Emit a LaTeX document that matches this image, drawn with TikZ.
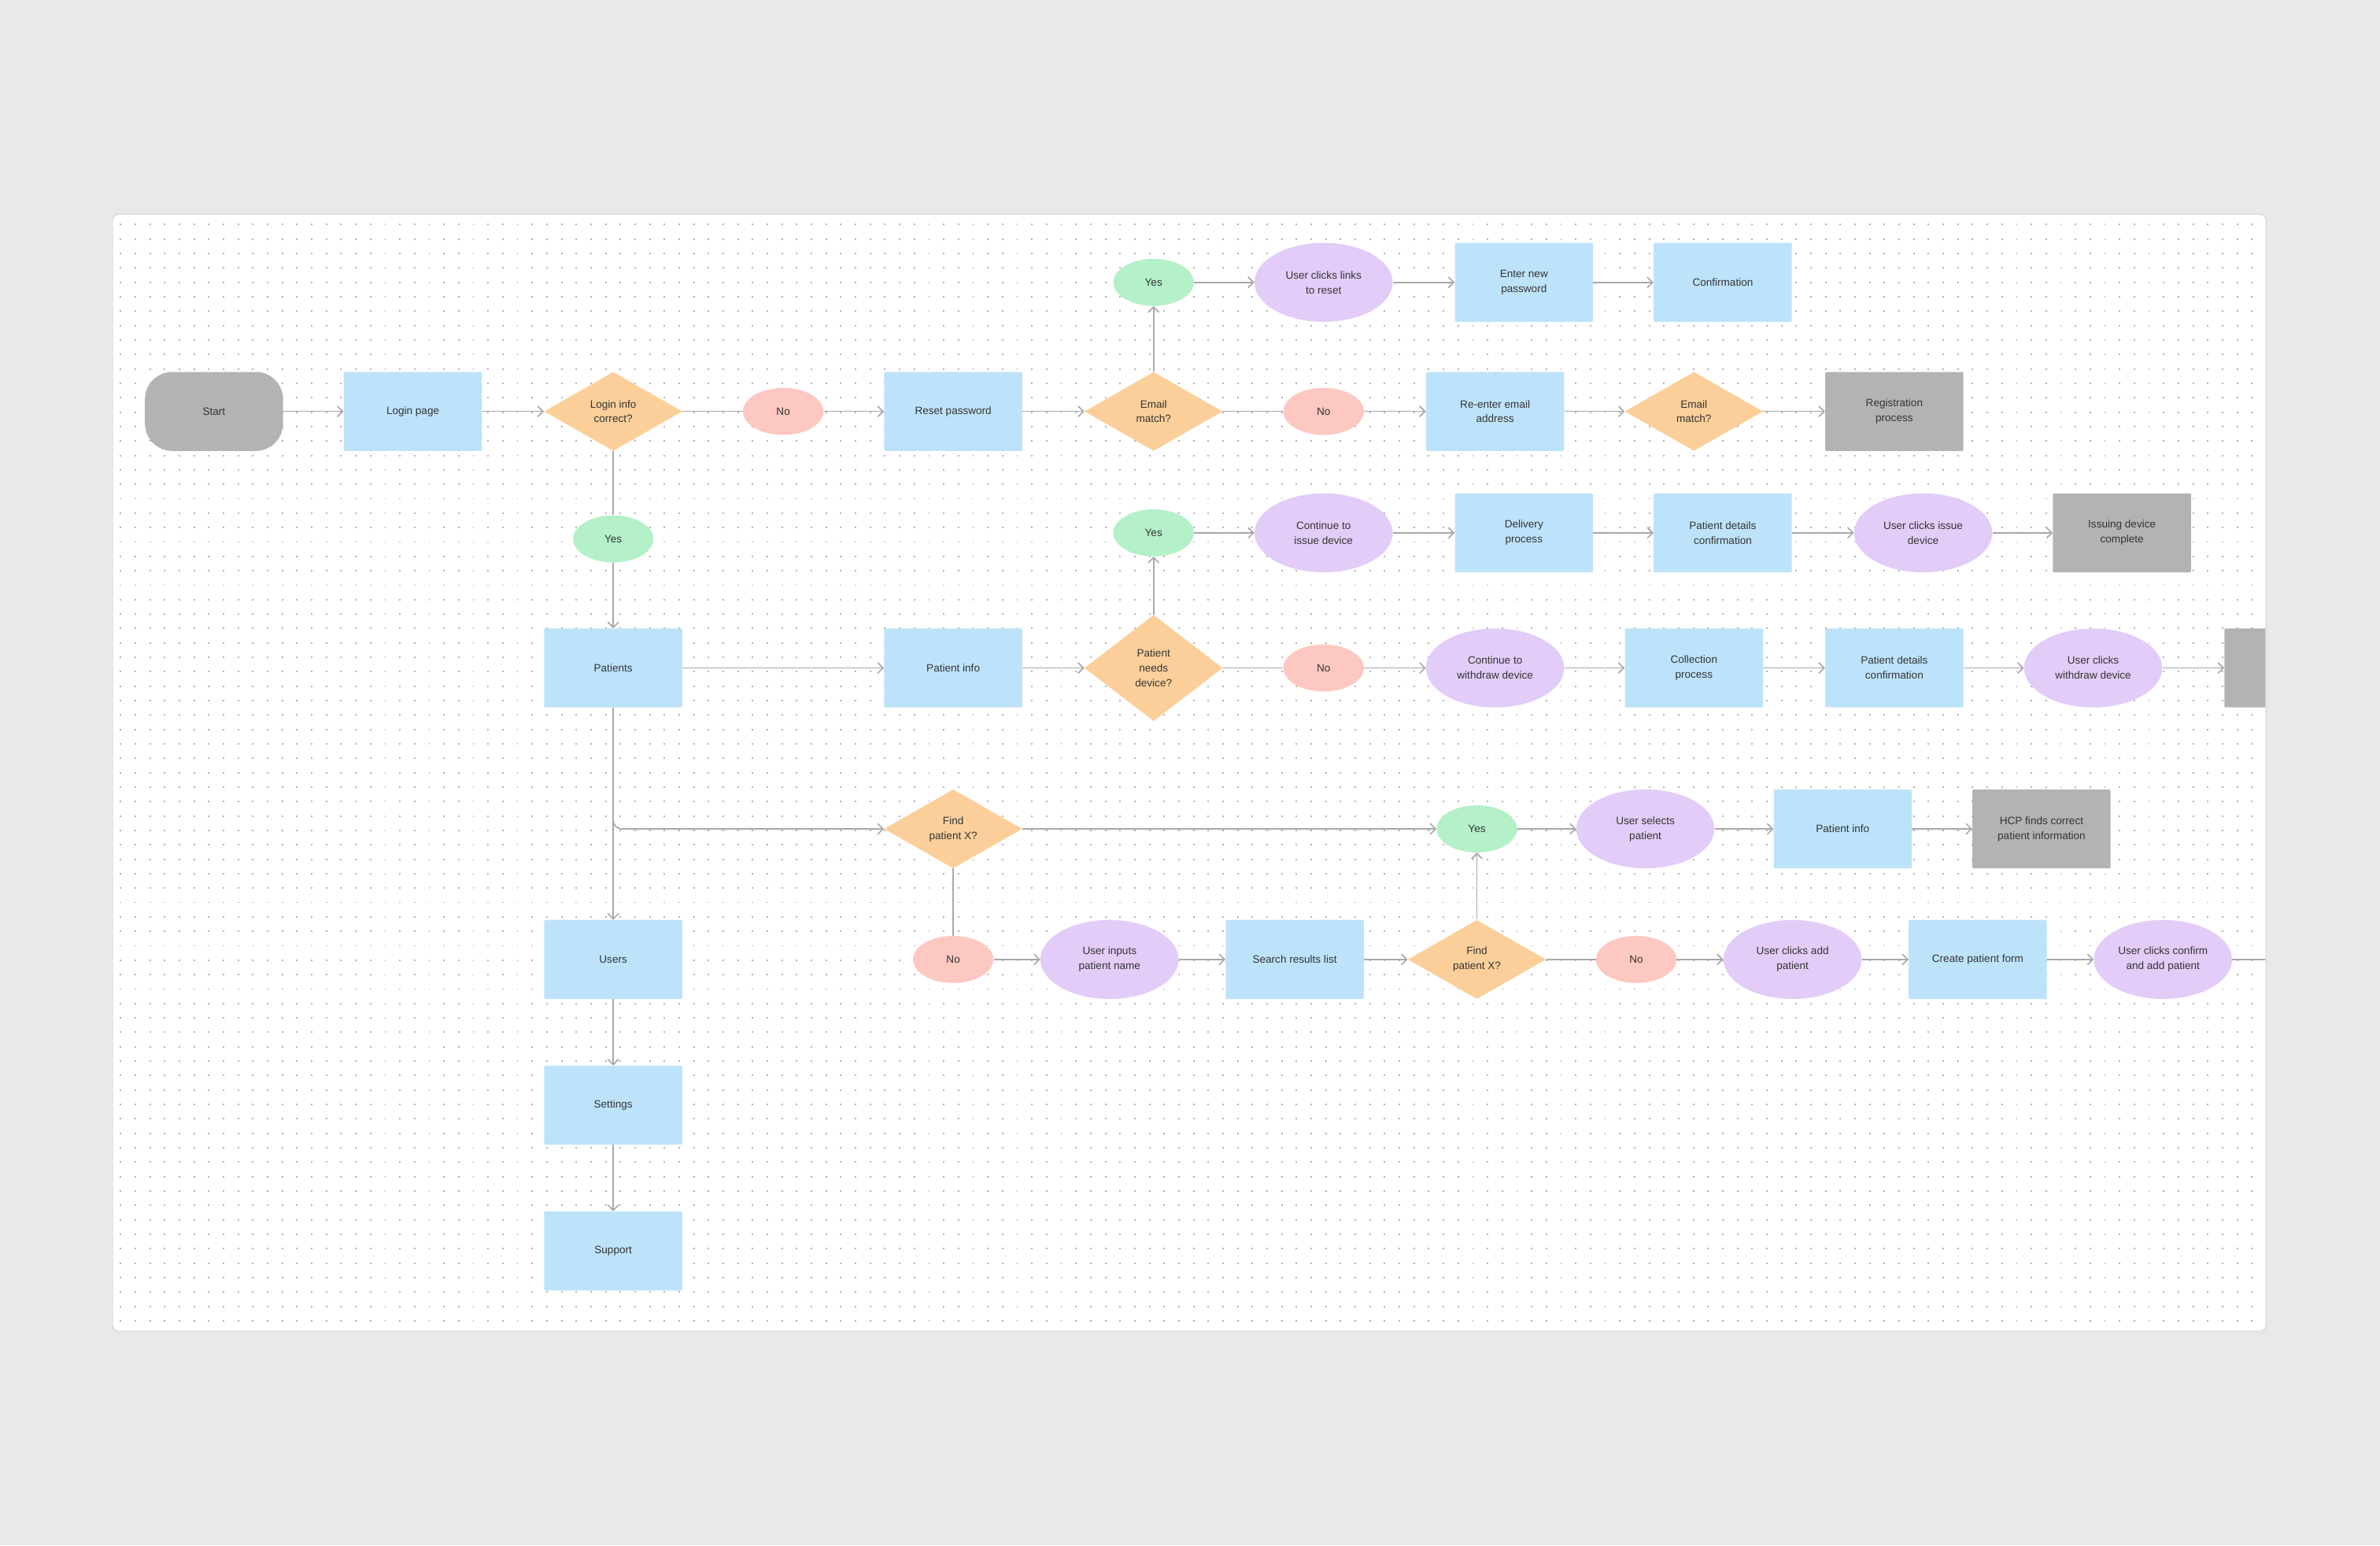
\documentclass[tikz,border=0pt]{standalone}
\usepackage{fontspec}
\setmainfont{Liberation Sans}
\usetikzlibrary{shapes.geometric,arrows.meta}
\definecolor{bg}{HTML}{E9E9E9}
\definecolor{cblue}{HTML}{BDE3FB}
\definecolor{corange}{HTML}{FCCF9A}
\definecolor{cpink}{HTML}{FDC8C1}
\definecolor{cgreen}{HTML}{B4F0C8}
\definecolor{cpurple}{HTML}{E3CCF8}
\definecolor{cgray}{HTML}{B3B3B3}
\definecolor{ctext}{HTML}{333333}
\definecolor{cline}{HTML}{A8A8A8}
\begin{document}
\begin{tikzpicture}[x=0.05cm,y=-0.05cm,
  every node/.style={font=\fontsize{10}{14}\selectfont,text=ctext,align=center,inner sep=1pt},
  rbox/.style={rectangle,fill=cblue,minimum width=4.55cm,minimum height=2.6cm,rounded corners=1pt},
  gbox/.style={rectangle,fill=cgray,minimum width=4.55cm,minimum height=2.6cm,rounded corners=1pt},
  dia/.style={diamond,fill=corange,minimum width=4.55cm,minimum height=2.6cm,inner sep=0pt},
  ovy/.style={ellipse,fill=cgreen,minimum width=2.65cm,minimum height=1.55cm},
  ovn/.style={ellipse,fill=cpink,minimum width=2.65cm,minimum height=1.55cm},
  ell/.style={ellipse,fill=cpurple,minimum width=4.55cm,minimum height=2.6cm,inner sep=0pt},
  con/.style={draw=cline,line width=1.2pt},
  arr/.style={con,-{Straight Barb[length=5pt,width=10pt]}}]
\useasboundingbox (0,0) rectangle (1568,1018);
\fill[bg] (0,0) rectangle (1568,1018);
\fill[black!12,rounded corners=6pt] (73.5,140.5) rectangle (1493.5,877.5);
\fill[white,rounded corners=6pt] (74.5,141.5) rectangle (1492.5,876.5);
\begin{scope}
\clip[rounded corners=6pt] (74.5,141.5) rectangle (1492.5,876.5);
\foreach \yy in {0,...,76}{
  \draw[black!30,line width=1.4pt,dash pattern=on 1.4pt off 0.435cm] (79,{148+\yy*9.5}) -- (1493,{148+\yy*9.5});
}
% row 271
\node[rectangle,fill=cgray,minimum width=4.55cm,minimum height=2.6cm,rounded corners=0.9cm] (start) at (141,271) {Start};
\node[rbox] (login) at (272,271) {Login page};
\node[dia] (lic) at (404,271) {Login info\\correct?};
\node[ovn] (no1) at (516,271) {No};
\node[rbox] (reset) at (628,271) {Reset password};
\node[dia] (em1) at (760,271) {Email\\match?};
\node[ovn] (no2) at (872,271) {No};
\node[rbox] (reent) at (985,271) {Re-enter email\\address};
\node[dia] (em2) at (1116,271) {Email\\match?};
\node[gbox] (reg) at (1248,271) {Registration\\process};
% row 186
\node[ovy] (yes1) at (760,186) {Yes};
\node[ell] (ucl) at (872,186) {User clicks links\\to reset};
\node[rbox] (enp) at (1004,186) {Enter new\\password};
\node[rbox] (conf) at (1135,186) {Confirmation};
% yes login
\node[ovy] (yes0) at (404,355) {Yes};
% row 351
\node[ovy] (yes2) at (760,351) {Yes};
\node[ell] (cid) at (872,351) {Continue to\\issue device};
\node[rbox] (del) at (1004,351) {Delivery\\process};
\node[rbox] (pdc1) at (1135,351) {Patient details\\confirmation};
\node[ell] (uci) at (1267,351) {User clicks issue\\device};
\node[gbox] (idc) at (1398,351) {Issuing device\\complete};
% row 440
\node[rbox] (pat) at (404,440) {Patients};
\node[rbox] (pi1) at (628,440) {Patient info};
\node[dia,minimum height=3.5cm] (pnd) at (760,440) {Patient\\needs\\device?};
\node[ovn] (no3) at (872,440) {No};
\node[ell] (cwd) at (985,440) {Continue to\\withdraw device};
\node[rbox] (col) at (1116,440) {Collection\\process};
\node[rbox] (pdc2) at (1248,440) {Patient details\\confirmation};
\node[ell] (ucw) at (1379,440) {User clicks\\withdraw device};
\node[gbox] (dev) at (1511,440) {Device\\withdrawn};
% row 546
\node[dia] (fx1) at (628,546) {Find\\patient X?};
\node[ovy] (yes3) at (973,546) {Yes};
\node[ell] (usp) at (1084,546) {User selects\\patient};
\node[rbox] (pi2) at (1214,546) {Patient info};
\node[gbox] (hcp) at (1345,546) {HCP finds correct\\patient information};
% row 632
\node[rbox] (users) at (404,632) {Users};
\node[ovn] (no4) at (628,632) {No};
\node[ell] (uin) at (731,632) {User inputs\\patient name};
\node[rbox] (srl) at (853,632) {Search results list};
\node[dia] (fx2) at (973,632) {Find\\patient X?};
\node[ovn] (no5) at (1078,632) {No};
\node[ell] (uca) at (1181,632) {User clicks add\\patient};
\node[rbox] (cpf) at (1303,632) {Create patient form};
\node[ell] (ucc) at (1425,632) {User clicks confirm\\and add patient};
\coordinate (outr) at (1500,632);
\node[rbox] (set) at (404,728) {Settings};
\node[rbox] (sup) at (404,824) {Support};
% connectors
\draw[arr] (start) -- (login);
\draw[arr] (login) -- (lic);
\draw[con] (lic) -- (no1);
\draw[arr] (no1) -- (reset);
\draw[arr] (reset) -- (em1);
\draw[con] (em1) -- (no2);
\draw[arr] (no2) -- (reent);
\draw[arr] (reent) -- (em2);
\draw[arr] (em2) -- (reg);
\draw[arr] (em1) -- (yes1);
\draw[arr] (yes1) -- (ucl);
\draw[arr] (ucl) -- (enp);
\draw[arr] (enp) -- (conf);
\draw[con] (lic) -- (yes0);
\draw[arr] (yes0) -- (pat);
\draw[arr] (pnd) -- (yes2);
\draw[arr] (yes2) -- (cid);
\draw[arr] (cid) -- (del);
\draw[arr] (del) -- (pdc1);
\draw[arr] (pdc1) -- (uci);
\draw[arr] (uci) -- (idc);
\draw[arr] (pat) -- (pi1);
\draw[arr] (pi1) -- (pnd);
\draw[con] (pnd) -- (no3);
\draw[arr] (no3) -- (cwd);
\draw[arr] (cwd) -- (col);
\draw[arr] (col) -- (pdc2);
\draw[arr] (pdc2) -- (ucw);
\draw[arr] (ucw) -- (dev);
\draw[arr,rounded corners=8pt] (pat.south) |- (fx1.west);
\draw[arr] (pat) -- (users);
\draw[arr] (fx1) -- (yes3);
\draw[arr] (yes3) -- (usp);
\draw[arr] (usp) -- (pi2);
\draw[arr] (pi2) -- (hcp);
\draw[con] (fx1) -- (no4);
\draw[arr] (no4) -- (uin);
\draw[arr] (uin) -- (srl);
\draw[arr] (srl) -- (fx2);
\draw[arr] (fx2) -- (yes3);
\draw[con] (fx2) -- (no5);
\draw[arr] (no5) -- (uca);
\draw[arr] (uca) -- (cpf);
\draw[arr] (cpf) -- (ucc);
\draw[con] (ucc) -- (outr);
\draw[arr] (users) -- (set);
\draw[arr] (set) -- (sup);
\end{scope}
\end{tikzpicture}
\end{document}
